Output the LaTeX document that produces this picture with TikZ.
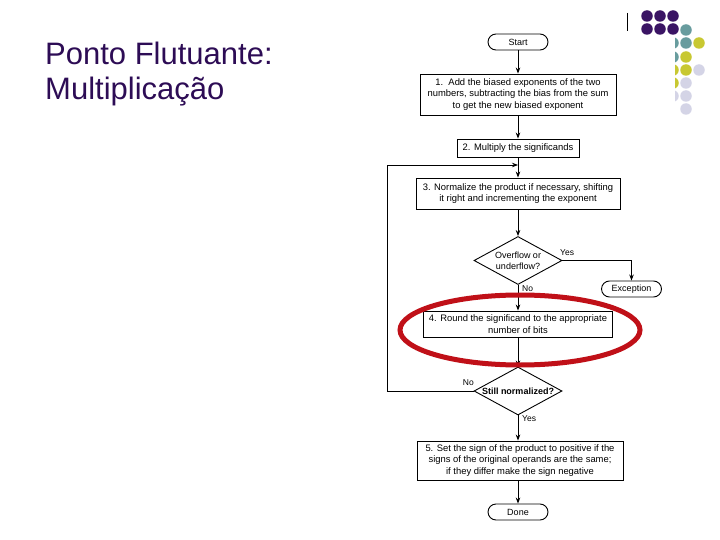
\documentclass[tikz,border=0pt]{standalone}
\usepackage{fontspec}
\setmainfont{Liberation Sans}
\usetikzlibrary{shapes.geometric,arrows.meta}
\definecolor{titlec}{RGB}{45,12,85}
\definecolor{dpurple}{RGB}{58,20,100}
\definecolor{dteal}{RGB}{104,156,158}
\definecolor{dyellow}{RGB}{200,200,50}
\definecolor{dlav}{RGB}{212,212,230}
\definecolor{ringred}{RGB}{192,16,24}
\begin{document}
\begin{tikzpicture}[x=1pt,y=-1pt,
  box/.style={draw, line width=0.9pt, fill=white, align=center, inner sep=1pt,
    font=\fontsize{9.4}{11.6}\selectfont},
  term/.style={draw, line width=0.9pt, rounded corners=8pt, minimum width=60pt,
    minimum height=16pt, inner sep=0pt, font=\fontsize{9}{10}\selectfont},
  dec/.style={draw, line width=0.9pt, diamond, aspect=1.76, inner sep=0pt,
    minimum width=88pt, minimum height=48pt, align=center,
    font=\fontsize{9}{11}\selectfont},
  arr/.style={-{Stealth[length=6pt,width=4.5pt]}, line width=0.8pt},
  lbl/.style={font=\fontsize{8.5}{9}\selectfont, inner sep=0pt},
  dot/.style={circle, inner sep=0pt, minimum size=11.5pt}
]
\useasboundingbox (0,0) rectangle (720,540);
% title
\node[anchor=base west, text=titlec, font=\fontsize{31}{35}\selectfont, inner sep=0pt] (t1) at (45,65) {Ponto Flutuante:};
\node[anchor=base west, text=titlec, font=\fontsize{31}{35}\selectfont, inner sep=0pt] (t2) at (45,100) {Multiplicação};
% decoration
\coordinate (vl1) at (627,13);
\coordinate (vl2) at (627,31);
\draw[line width=0.8pt] (vl1) -- (vl2);
\foreach \x/\y/\c [count=\i] in {647/16/dpurple,660/16/dpurple,673/16/dpurple,
  647/29/dpurple,660/29/dpurple,673/29/dpurple,686/30/dteal,
  673/43/dteal,686/43/dteal,699/43/dyellow,
  673/57/dteal,686/57/dyellow,
  673/70/dyellow,686/70/dyellow,699/70/dlav,
  673/83/dyellow,686/83/dlav,
  673/96/dlav,686/96/dlav,
  686/109/dlav}
  \node[dot, fill=\c] (dot\i) at (\x,\y) {};
\fill[white] (376,36) rectangle (674.5,540);
% flowchart
\node[term] (start) at (518,42) {Start};
\node[box, minimum width=196pt, minimum height=41pt] (b1) at (518,94.5)
  {1.\ \ Add the biased exponents of the two\\numbers, subtracting the bias from the sum\\to get the new biased exponent};
\node[box, minimum width=122pt, minimum height=18pt] (b2) at (518,148) {2. Multiply the significands};
\node[box, minimum width=204pt, minimum height=31pt] (b3) at (518,193.5)
  {3. Normalize the product if necessary, shifting\\it right and incrementing the exponent};
\node[dec] (d1) at (518,260.5) {Overflow or\\underflow?};
\node[term] (exc) at (631.5,289) {Exception};
\node[box, minimum width=189pt, minimum height=26pt] (b4) at (518,324)
  {4. Round the significand to the appropriate\\number of bits};
\node[dec, font=\fontsize{9}{11}\selectfont\bfseries] (d2) at (518,391) {Still normalized?};
\node[box, minimum width=206pt, minimum height=39pt] (b5) at (520,460.5)
  {5. Set the sign of the product to positive if the\\signs of the original operands are the same;\\if they differ make the sign negative};
\node[term] (done) at (518,512) {Done};
% connectors
\draw[arr] (start) -- (b1);
\draw[arr] (b1.south -| b2.north) -- (b2.north);
\draw[arr] (b2) -- (b3);
\draw[arr] (b3) -- (d1);
\draw[arr] (d1) -- (b4);
\draw[arr] (b4) -- (d2);
\draw[arr] (d2) -- (b5.north -| d2.south);
\draw[arr] (b5.south -| done.north) -- (done);
\draw[arr] (d1.east) -- (d1.east -| exc.north) -- (exc.north);
\coordinate (lb) at (387,391);
\coordinate (lt) at (387,165);
\coordinate (jn) at (518,165);
\draw[arr] (d2.west) -- (lb) -- (lt) -- (jn);
% labels
\node[lbl, anchor=south west] (yes1) at (560,256) {Yes};
\node[lbl, anchor=north west] (no1) at (522,285) {No};
\node[lbl, anchor=south east] (no2) at (474,386) {No};
\node[lbl, anchor=north west] (yes2) at (522,415) {Yes};
% red ring
\draw[ringred, line width=5pt] (520,330) ellipse [x radius=120pt, y radius=35pt];
\end{tikzpicture}
\end{document}
